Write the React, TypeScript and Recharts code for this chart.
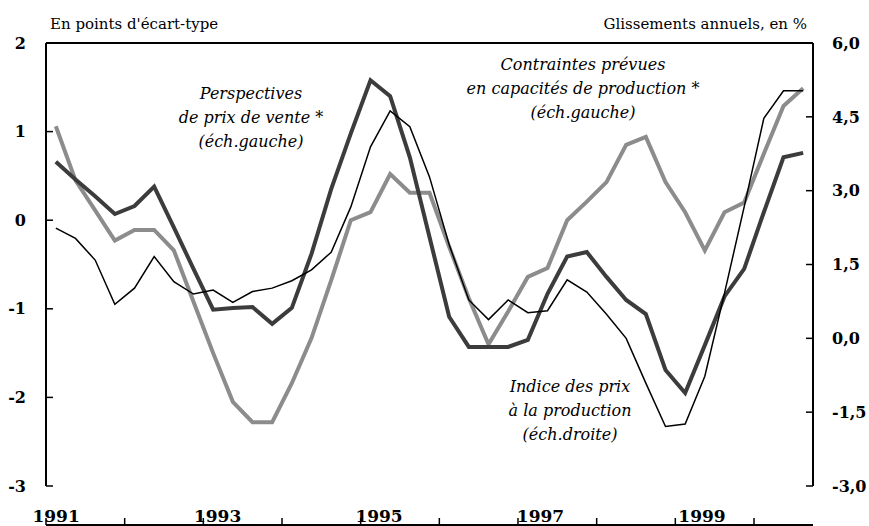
import { Line, LineChart, ReferenceLine, XAxis, YAxis } from "recharts"

// quarters 1991Q1 .. 2000Q3
const quarters = [
  "1991T1", "1991T2", "1991T3", "1991T4",
  "1992T1", "1992T2", "1992T3", "1992T4",
  "1993T1", "1993T2", "1993T3", "1993T4",
  "1994T1", "1994T2", "1994T3", "1994T4",
  "1995T1", "1995T2", "1995T3", "1995T4",
  "1996T1", "1996T2", "1996T3", "1996T4",
  "1997T1", "1997T2", "1997T3", "1997T4",
  "1998T1", "1998T2", "1998T3", "1998T4",
  "1999T1", "1999T2", "1999T3", "1999T4",
  "2000T1", "2000T2", "2000T3",
]

// contraintes prévues en capacités de production (éch. gauche)
const contraintes = [
  1.06, 0.45, 0.11, -0.23, -0.11, -0.11, -0.34, -0.92,
  -1.5, -2.05, -2.28, -2.28, -1.84, -1.33, -0.68, 0.0,
  0.09, 0.52, 0.31, 0.31, -0.3, -0.88, -1.4, -1.03,
  -0.64, -0.54, 0.0, 0.21, 0.43, 0.85, 0.94, 0.43,
  0.09, -0.34, 0.09, 0.2, 0.75, 1.29, 1.49,
]

// perspectives de prix de vente (éch. gauche)
const perspectives = [
  0.66, 0.46, 0.27, 0.07, 0.16, 0.38, -0.08, -0.55,
  -1.01, -0.99, -0.98, -1.17, -0.99, -0.38, 0.35, 0.98,
  1.58, 1.4, 0.71, -0.19, -1.09, -1.43, -1.43, -1.43,
  -1.35, -0.83, -0.41, -0.36, -0.64, -0.9, -1.06, -1.69,
  -1.95, -1.41, -0.86, -0.55, 0.09, 0.71, 0.76,
]

// indice des prix à la production, glissement annuel en % (éch. droite)
const indicePrix = [
  2.24, 2.03, 1.59, 0.69, 1.02, 1.66, 1.15, 0.9,
  0.98, 0.73, 0.95, 1.02, 1.17, 1.39, 1.75, 2.67,
  3.89, 4.62, 4.3, 3.28, 1.9, 0.78, 0.38, 0.78,
  0.52, 0.56, 1.19, 0.94, 0.49, 0.0, -0.91, -1.79,
  -1.74, -0.77, 0.92, 2.67, 4.47, 5.03, 5.03,
]

const yearTicks = [0, 4, 8, 12, 16, 20, 24, 28, 32, 36]
const yearLabels = ["1991", "1993", "1995", "1997", "1999"]
const leftTicks = [-3, -2, -1, 0, 1, 2]
const rightTicks = [-3, -1.5, 0, 1.5, 3, 4.5, 6]

const data = quarters.map((q, i) => ({
  q,
  t: i + 0.5,
  contraintes: contraintes[i],
  perspectives: perspectives[i],
  indicePrix: indicePrix[i],
}))

// labels sit on the first quarter of every other year
const labelTicks = yearLabels.map((_, k) => k * 8 + 0.5)

const FONT = "'DejaVu Serif', 'Liberation Serif', serif"
const tickFont = { fill: "#000", fontSize: 16, fontWeight: "bold", fontFamily: FONT }
const axisStyle = { stroke: "#000", strokeWidth: 2 }
const tickStyle = { stroke: "#000", strokeWidth: 1.5 }

export default function App() {
  return (
    <div style={{ position: "absolute", left: 0, top: 0, width: 869, height: 526, background: "#fff" }}>
      <LineChart width={869} height={526} data={data} margin={{ top: 43, right: 0, bottom: 0, left: 0 }}>
        <XAxis
          xAxisId="q"
          dataKey="t"
          type="number"
          domain={[0, 39]}
          allowDataOverflow
          ticks={yearTicks}
          interval={0}
          height={1}
          tickSize={-7}
          tickFormatter={() => ""}
          axisLine={axisStyle}
          tickLine={tickStyle}
        />
        <XAxis
          xAxisId="lab"
          type="number"
          domain={[0, 39]}
          allowDataOverflow
          ticks={labelTicks}
          tickFormatter={(v: number) => yearLabels[Math.round((v - 0.5) / 8)]}
          height={39}
          tickSize={0}
          tickMargin={24}
          axisLine={false}
          tickLine={false}
          tick={{ ...tickFont, fontSize: 17 }}
          interval={0}
        />
        <YAxis
          yAxisId="l"
          domain={[-3, 2]}
          allowDataOverflow
          ticks={leftTicks}
          width={46}
          tickSize={-7}
          tickMargin={27}
          interval={0}
          tick={tickFont}
          axisLine={axisStyle}
          tickLine={tickStyle}
        />
        <YAxis
          yAxisId="r"
          orientation="right"
          domain={[-3, 6]}
          allowDataOverflow
          ticks={rightTicks}
          width={56}
          tickSize={-7}
          tickMargin={26}
          interval={0}
          tick={tickFont}
          tickFormatter={(v: number) => v.toFixed(1).replace(".", ",")}
          axisLine={axisStyle}
          tickLine={tickStyle}
        />
        {/* top border of the frame */}
        <ReferenceLine xAxisId="q" yAxisId="l" y={2} stroke="#000" strokeWidth={2} ifOverflow="visible" />
        <Line xAxisId="q" yAxisId="l" type="linear" dataKey="contraintes" stroke="#8c8c8c" strokeWidth={4} dot={false} isAnimationActive={false} />
        <Line xAxisId="q" yAxisId="l" type="linear" dataKey="perspectives" stroke="#3c3c3c" strokeWidth={4} dot={false} isAnimationActive={false} />
        <Line xAxisId="q" yAxisId="r" type="linear" dataKey="indicePrix" stroke="#000" strokeWidth={1.5} dot={false} isAnimationActive={false} />
      </LineChart>
      <svg width={869} height={526} style={{ position: "absolute", left: 0, top: 0, pointerEvents: "none" }}>
        <g fontFamily={FONT} fill="#000">
          <text x={50} y={29} fontSize={15}>En points d'écart-type</text>
          <text x={807} y={29} fontSize={15} textAnchor="end">Glissements annuels, en %</text>
          <g fontStyle="italic" fontSize={16} textAnchor="middle">
            <text x={251} y={99}>Perspectives</text>
            <text x={251} y={123}>de prix de vente *</text>
            <text x={251} y={147}>(éch.gauche)</text>
            <text x={583} y={70}>Contraintes prévues</text>
            <text x={583} y={94}>en capacités de production *</text>
            <text x={583} y={118}>(éch.gauche)</text>
            <text x={570} y={392}>Indice des prix</text>
            <text x={570} y={416}>à la production</text>
            <text x={570} y={440}>(éch.droite)</text>
          </g>
        </g>
      </svg>
    </div>
  )
}
